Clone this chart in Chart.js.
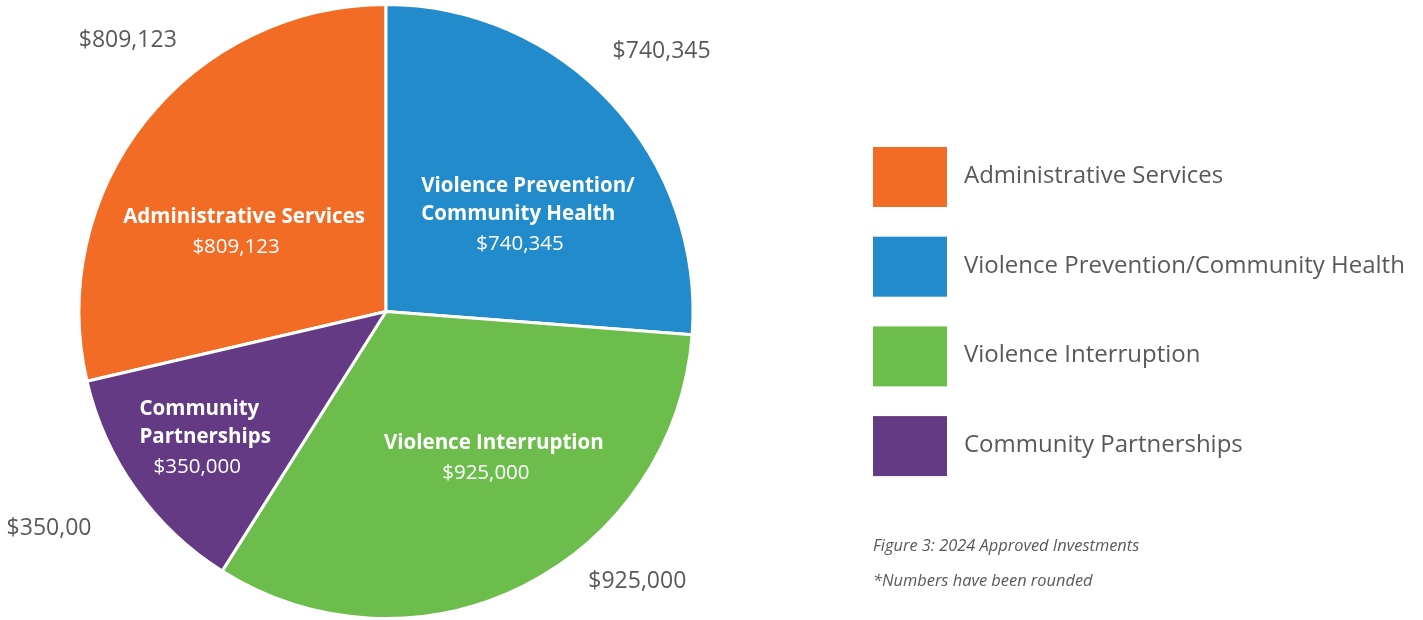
<!DOCTYPE html>
<html>
<head>
<meta charset="utf-8">
<script src="https://cdn.jsdelivr.net/npm/chart.js@4.4.0/dist/chart.umd.min.js"></script>
<style>
  html, body { margin: 0; padding: 0; background: #fff; }
  #wrap { position: relative; width: 1423px; height: 620px; }
</style>
</head>
<body>
<div id="wrap"><canvas id="pie"></canvas></div>
<script>
// data, in legend order (clockwise from the orange slice)
var labels = ['Administrative Services', 'Violence Prevention/Community Health', 'Violence Interruption', 'Community Partnerships'];
var insideNames = [['Administrative Services'], ['Violence Prevention/', 'Community Health'], ['Violence Interruption'], ['Community', 'Partnerships']];
var values = [809123, 740345, 925000, 350000];
var insideText = ['$809,123', '$740,345', '$925,000', '$350,000'];
var outsideText = ['$809,123', '$740,345', '$925,000', '$350,00'];
var colors = ['#F26C25', '#218BCB', '#6CBD4C', '#643A85'];
var captions = ['Figure 3: 2024 Approved Investments', '*Numbers have been rounded'];

// label placement: angle shift from slice middle (deg) and fraction of radius
var inPlace = [[-8.4, 0.534], [7.9, 0.564], [-10.3, 0.584], [1, 0.714]];
var outPlace = [[8.2, 1.225], [-0.7, 1.238], [-16.5, 1.196], [2.9, 1.302]];

var total = values.reduce(function(a, b) { return a + b; }, 0);
var FONT = '"Open Sans", sans-serif';
var GREY = '#58595B';

var labelPlugin = {
  id: 'sliceLabels',
  afterDatasetsDraw: function(chart) {
    var ctx = chart.ctx;
    var arcs = chart.getDatasetMeta(0).data;
    ctx.save();
    ctx.textBaseline = 'middle';
    arcs.forEach(function(arc, i) {
      var mid = (arc.startAngle + arc.endAngle) / 2;
      var r = arc.outerRadius;

      // inside label
      var a = mid + inPlace[i][0] * Math.PI / 180;
      var cx = arc.x + Math.cos(a) * r * inPlace[i][1];
      var cy = arc.y + Math.sin(a) * r * inPlace[i][1];
      var names = insideNames[i];
      var top = cy - (names.length * 28 + 30) / 2 + 17;
      ctx.fillStyle = '#fff';
      ctx.font = 'bold 20.5px ' + FONT;
      var w = 0;
      names.forEach(function(n) { w = Math.max(w, ctx.measureText(n).width); });
      ctx.textAlign = 'left';
      names.forEach(function(n, k) { ctx.fillText(n, cx - w / 2, top + k * 28); });
      ctx.font = '20.5px ' + FONT;
      ctx.textAlign = 'center';
      ctx.fillText(insideText[i], cx - 8, top + (names.length - 1) * 28 + 30);

      // outside label
      var b = mid + outPlace[i][0] * Math.PI / 180;
      ctx.fillStyle = GREY;
      ctx.font = '23px ' + FONT;
      ctx.fillText(outsideText[i], arc.x + Math.cos(b) * r * outPlace[i][1], arc.y + Math.sin(b) * r * outPlace[i][1] + 2);
    });

    // legend
    ctx.textAlign = 'left';
    ctx.font = '24px ' + FONT;
    labels.forEach(function(l, i) {
      var y = 147 + i * 89.7;
      ctx.fillStyle = colors[i];
      ctx.fillRect(873, y, 74, 60);
      ctx.fillStyle = GREY;
      ctx.fillText(l, 964, y + 29);
    });

    // captions
    ctx.font = 'italic 16.4px ' + FONT;
    captions.forEach(function(c, i) {
      ctx.fillText(c, 873, 546 + i * 35);
    });
    ctx.restore();
  }
};

new Chart(document.getElementById('pie'), {
  type: 'pie',
  data: {
    labels: labels,
    datasets: [{
      data: values,
      backgroundColor: colors,
      borderColor: '#fff',
      borderWidth: 3
    }]
  },
  options: {
    responsive: true,
    maintainAspectRatio: false,
    animation: false,
    rotation: -values[0] / total * 360,
    layout: { padding: { top: 3, bottom: 0, left: 0, right: 651 } },
    plugins: {
      legend: { display: false },
      tooltip: { enabled: false }
    }
  },
  plugins: [labelPlugin]
});
</script>
</body>
</html>
